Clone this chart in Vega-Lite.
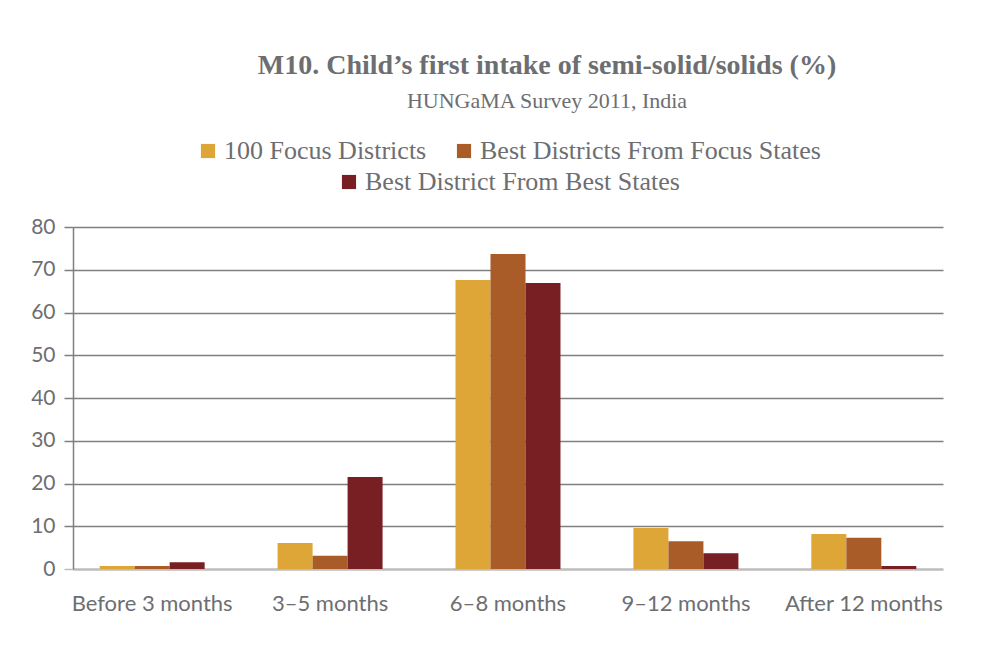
{
  "$schema": "https://vega.github.io/schema/vega-lite/v6.json",
  "width": 870,
  "height": 342,
  "autosize": "none",
  "padding": {"left": 73, "top": 227, "right": 45, "bottom": 87},
  "background": "white",
  "title": {
    "text": "M10. Child’s first intake of semi-solid/solids (%)",
    "subtitle": "HUNGaMA Survey 2011, India",
    "font": "Liberation Serif",
    "fontSize": 28,
    "fontWeight": "bold",
    "color": "#6d6e71",
    "subtitleFont": "Liberation Serif",
    "subtitleFontSize": 22,
    "subtitleColor": "#6d6e71",
    "subtitlePadding": 11,
    "offset": 26,
    "anchor": "middle",
    "dx": 39
  },
  "data": {
    "values": [
      {"age": "Before 3 months", "series": "100 Focus Districts", "value": 0.7},
      {"age": "Before 3 months", "series": "Best Districts From Focus States", "value": 0.7},
      {"age": "Before 3 months", "series": "Best District From Best States", "value": 1.6},
      {"age": "3–5 months", "series": "100 Focus Districts", "value": 6.1},
      {"age": "3–5 months", "series": "Best Districts From Focus States", "value": 3.1},
      {"age": "3–5 months", "series": "Best District From Best States", "value": 21.5},
      {"age": "6–8 months", "series": "100 Focus Districts", "value": 67.6},
      {"age": "6–8 months", "series": "Best Districts From Focus States", "value": 73.7},
      {"age": "6–8 months", "series": "Best District From Best States", "value": 66.9},
      {"age": "9–12 months", "series": "100 Focus Districts", "value": 9.6},
      {"age": "9–12 months", "series": "Best Districts From Focus States", "value": 6.5},
      {"age": "9–12 months", "series": "Best District From Best States", "value": 3.7},
      {"age": "After 12 months", "series": "100 Focus Districts", "value": 8.2},
      {"age": "After 12 months", "series": "Best Districts From Focus States", "value": 7.3},
      {"age": "After 12 months", "series": "Best District From Best States", "value": 0.7}
    ]
  },
  "encoding": {
    "x": {
      "field": "age",
      "type": "nominal",
      "sort": null,
      "scale": {"paddingInner": 0.41, "paddingOuter": 0.15},
      "axis": {
        "title": null,
        "labelAngle": 0,
        "domain": false,
        "ticks": false,
        "labelPadding": 24,
        "labelFont": "Lato",
        "labelFontSize": 22,
        "labelColor": "#6d6e71",
        "labelLimit": 0,
        "grid": false
      }
    },
    "xOffset": {
      "field": "series",
      "type": "nominal",
      "scale": {
        "domain": ["100 Focus Districts", "Best Districts From Focus States", "Best District From Best States"],
        "paddingInner": 0,
        "paddingOuter": 0
      }
    },
    "y": {
      "field": "value",
      "type": "quantitative",
      "scale": {"domain": [0, 80], "nice": false},
      "axis": {
        "title": null,
        "values": [0, 10, 20, 30, 40, 50, 60, 70, 80],
        "domain": true,
        "domainColor": "#7f7f7f",
        "domainWidth": 1.5,
        "ticks": true,
        "tickSize": 9,
        "tickWidth": 1.5,
        "tickColor": {"condition": {"test": "datum.value === 0", "value": "#bdbdbd"}, "value": "#7f7f7f"},
        "grid": true,
        "gridColor": {"condition": {"test": "datum.value === 0", "value": "#bdbdbd"}, "value": "#7f7f7f"},
        "gridWidth": {"condition": {"test": "datum.value === 0", "value": 2.5}, "value": 1.5},
        "gridOpacity": 1,
        "labelPadding": 9,
        "labelFont": "Lato",
        "labelFontSize": 21,
        "labelColor": "#6d6e71"
      }
    }
  },
  "layer": [
    {
      "transform": [{"filter": "datum.series !== 'Best District From Best States'"}],
      "mark": {"type": "bar"},
      "encoding": {
        "color": {
          "field": "series",
          "type": "nominal",
          "scale": {
            "domain": ["100 Focus Districts", "Best Districts From Focus States"],
            "range": ["#dda637", "#a95c28"]
          },
          "legend": {
            "orient": "top",
            "direction": "horizontal",
            "title": null,
            "columnPadding": 24
          }
        }
      }
    },
    {
      "transform": [{"filter": "datum.series === 'Best District From Best States'"}],
      "mark": {"type": "bar"},
      "encoding": {
        "color": {
          "field": "series",
          "type": "nominal",
          "scale": {
            "domain": ["Best District From Best States"],
            "range": ["#781f23"]
          },
          "legend": {
            "orient": "top",
            "direction": "horizontal",
            "title": null
          }
        }
      }
    }
  ],
  "resolve": {"scale": {"color": "independent"}},
  "config": {
    "view": {"stroke": null},
    "legend": {
      "symbolType": "square",
      "symbolSize": 200,
      "symbolStrokeWidth": 0,
      "symbolOpacity": 1,
      "labelFont": "Liberation Serif",
      "labelFontSize": 26,
      "labelColor": "#6d6e71",
      "labelOffset": 3,
      "labelLimit": 0,
      "offset": 32,
      "layout": {"top": {"direction": "vertical", "center": true, "anchor": "middle", "margin": 5}}
    }
  }
}
